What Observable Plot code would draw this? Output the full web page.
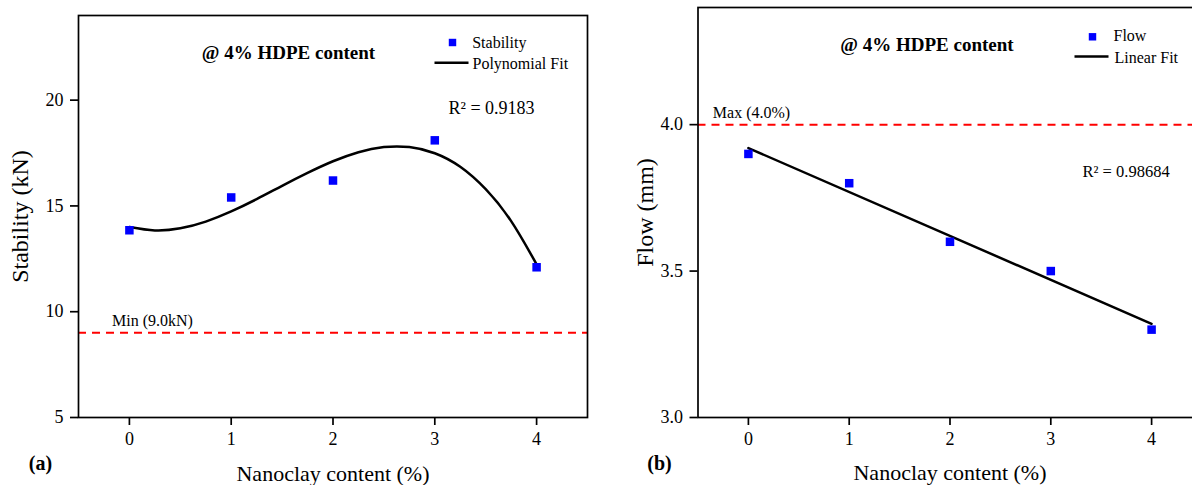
<!DOCTYPE html>
<html><head><meta charset="utf-8">
<script src="https://cdn.jsdelivr.net/npm/d3@7"></script>
<script src="https://cdn.jsdelivr.net/npm/@observablehq/plot@0.6"></script>
<style>
html,body{margin:0;padding:0;background:#fff;}
#wrap{position:relative;width:1192px;height:485px;overflow:hidden;background:#fff;}
#a{position:absolute;left:0;top:0;}
#b{position:absolute;left:596px;top:0;}
</style></head><body><div id="wrap"><div id="a"></div><div id="b"></div></div>
<script>
// ---- data ----
const nanoclay = [0, 1, 2, 3, 4];
const stability = [13.85, 15.4, 16.2, 18.1, 12.1];
const flow = [3.9, 3.8, 3.6, 3.5, 3.3];
// polynomial fit curve
const fitX = [0, 0.25, 0.5, 0.75, 1, 1.25, 1.5, 1.75, 2, 2.25, 2.5, 2.75, 3, 3.25, 3.5, 3.75, 4];
const fitStability = [14.0, 13.84, 13.94, 14.26, 14.74, 15.32, 15.95, 16.56, 17.11, 17.54, 17.78, 17.78, 17.49, 16.85, 15.79, 14.28, 12.24];
const xTicks = [0, 1, 2, 3, 4];
const stabilityTicks = [5, 10, 15, 20];
const flowTicks = [3.0, 3.5, 4.0];
const minStability = [9.0];
const maxFlow = [4.0];
const title = "@ 4% HDPE content";
const xLabel = "Nanoclay content (%)";
const seriesA = ["Stability", "Polynomial Fit"];
const seriesB = ["Flow", "Linear Fit"];
const r2A = "R\u00B2 = 0.9183";
const r2B = "R\u00B2 = 0.98684";

const FONT = "'Liberation Serif', 'Times New Roman', serif";
const BLUE = "#0000ff";
const RED = "#ff0000";
const lineSymbol = {draw(ctx) { ctx.moveTo(-17, 0); ctx.lineTo(17, 0); }};
const style = {fontFamily: FONT, fontSize: "18px", background: "white", overflow: "visible", maxWidth: "none", color: "black"};

const stabData = nanoclay.map((x, i) => ({x, y: stability[i]}));
const fitData = fitX.map((x, i) => ({x, y: fitStability[i]}));
const flowData = nanoclay.map((x, i) => ({x, y: flow[i]}));

function txt(s, o) { return Plot.text([s], {text: d => d, frameAnchor: "top-left", textAnchor: "middle", lineAnchor: "middle", fill: "black", ...o}); }

const plotA = Plot.plot({
  width: 596, height: 485,
  marginLeft: 78, marginRight: 9, marginTop: 15, marginBottom: 68,
  style,
  x: {domain: [-0.5, 4.5]},
  y: {domain: [5, 24]},
  marks: [
    Plot.ruleY(minStability, {stroke: RED, strokeWidth: 2, strokeDasharray: "8,6"}),
    Plot.text(minStability, {y: d => d, text: () => "Min (9.0kN)", frameAnchor: "left", dx: 33.5, dy: -12, textAnchor: "start", lineAnchor: "middle", fontSize: 16}),
    Plot.line(fitData, {x: "x", y: "y", curve: "natural", stroke: "black", strokeWidth: 2.5}),
    Plot.dot(stabData, {x: "x", y: "y", symbol: "square", r: 4.8, fill: BLUE, stroke: null}),
    Plot.frame({stroke: "black", strokeWidth: 1.7}),
    Plot.axisX({ticks: xTicks, tickFormat: d3.format("d"), tickSize: 8, tickPadding: 7, strokeWidth: 1.7, fontSize: 18, label: null}),
    Plot.axisY({ticks: stabilityTicks, tickFormat: d3.format("d"), tickSize: 8, tickPadding: 7, strokeWidth: 1.7, fontSize: 18, label: null}),
    txt("Stability (kN)", {frameAnchor: "left", dx: -58.5, rotate: -90, fontSize: 24}),
    txt(xLabel, {frameAnchor: "bottom", dy: 56, fontSize: 22}),
    txt("(a)", {frameAnchor: "bottom-left", dx: -38, dy: 46, fontSize: 20, fontWeight: "bold"}),
    txt(title, {dx: 210, dy: 37.7, fontSize: 19, fontWeight: "bold"}),
    Plot.dot([seriesA[0]], {frameAnchor: "top-left", dx: 374, dy: 27, symbol: "square", r: 4.2, fill: BLUE, stroke: null}),
    txt(seriesA[0], {dx: 393.7, dy: 27.7, textAnchor: "start", fontSize: 16}),
    Plot.dot([seriesA[1]], {frameAnchor: "top-left", dx: 373, dy: 47.3, symbol: lineSymbol, r: 5, fill: "none", stroke: "black", strokeWidth: 2.5}),
    txt(seriesA[1], {dx: 394, dy: 48, textAnchor: "start", fontSize: 16}),
    txt(r2A, {dx: 370, dy: 93, textAnchor: "start", fontSize: 18})
  ]
});
document.getElementById("a").append(plotA);

const plotB = Plot.plot({
  width: 612, height: 485,
  marginLeft: 101.5, marginRight: 6.5, marginTop: 7, marginBottom: 68,
  style,
  x: {domain: [-0.5, 4.5]},
  y: {domain: [3.0, 4.4]},
  marks: [
    Plot.ruleY(maxFlow, {stroke: RED, strokeWidth: 2, strokeDasharray: "8,6"}),
    Plot.text(maxFlow, {y: d => d, text: () => "Max (4.0%)", frameAnchor: "left", dx: 14.8, dy: -12, textAnchor: "start", lineAnchor: "middle", fontSize: 16}),
    Plot.linearRegressionY(flowData, {x: "x", y: "y", ci: 0, stroke: "black", strokeWidth: 2.5}),
    Plot.dot(flowData, {x: "x", y: "y", symbol: "square", r: 4.8, fill: BLUE, stroke: null}),
    Plot.frame({stroke: "black", strokeWidth: 1.7}),
    Plot.axisX({ticks: xTicks, tickFormat: d3.format("d"), tickSize: 8, tickPadding: 7, strokeWidth: 1.7, fontSize: 18, label: null}),
    Plot.axisY({ticks: flowTicks, tickFormat: d3.format(".1f"), tickSize: 8, tickPadding: 7, strokeWidth: 1.7, fontSize: 18, label: null}),
    txt("Flow (mm)", {frameAnchor: "left", dx: -52.5, rotate: -90, fontSize: 24}),
    txt(xLabel, {frameAnchor: "bottom", dy: 55, fontSize: 22}),
    txt("(b)", {frameAnchor: "bottom-left", dx: -38.5, dy: 46, fontSize: 20, fontWeight: "bold"}),
    txt(title, {dx: 229, dy: 37, fontSize: 19, fontWeight: "bold"}),
    Plot.dot([seriesB[0]], {frameAnchor: "top-left", dx: 394.5, dy: 29.3, symbol: "square", r: 4.2, fill: BLUE, stroke: null}),
    txt(seriesB[0], {dx: 415.5, dy: 28, textAnchor: "start", fontSize: 16}),
    Plot.dot([seriesB[1]], {frameAnchor: "top-left", dx: 393.5, dy: 49, symbol: lineSymbol, r: 5, fill: "none", stroke: "black", strokeWidth: 2.5}),
    txt(seriesB[1], {dx: 416.5, dy: 50.7, textAnchor: "start", fontSize: 16}),
    txt(r2B, {dx: 384.5, dy: 164.7, textAnchor: "start", fontSize: 16.5})
  ]
});
document.getElementById("b").append(plotB);
</script></body></html>
